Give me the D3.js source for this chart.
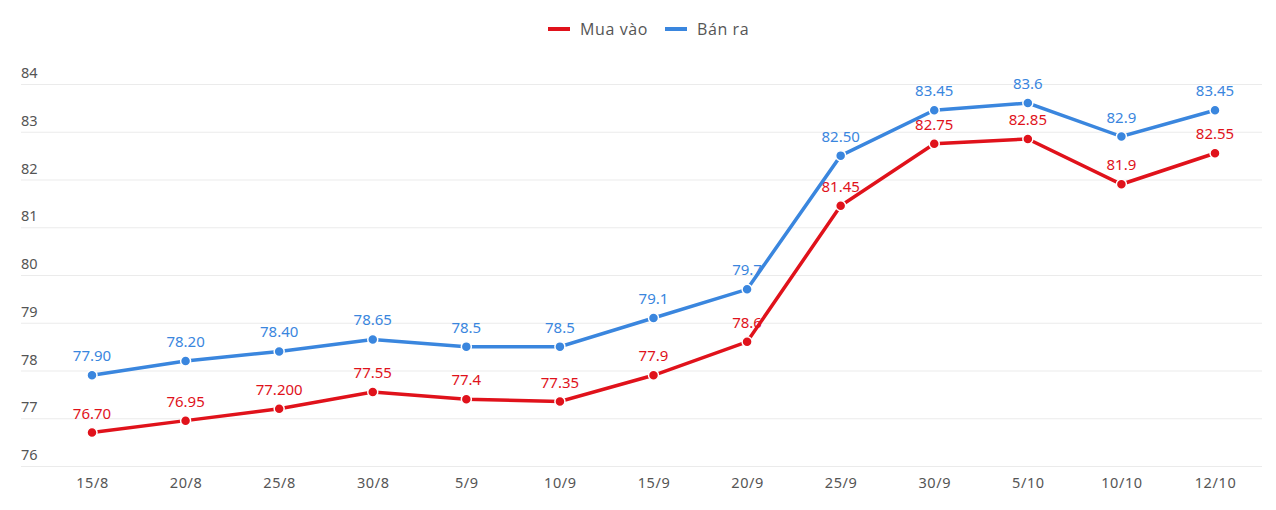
<!DOCTYPE html>
<html>
<head>
<meta charset="utf-8">
<script src="https://cdn.jsdelivr.net/npm/d3@7"></script>
<style>
  body { margin: 0; background: #fff; }
  svg { display: block; font-family: 'Noto Sans', sans-serif; }
</style>
</head>
<body>
<div id="chart"></div>
<script>
var dates = ['15/8', '20/8', '25/8', '30/8', '5/9', '10/9', '15/9', '20/9', '25/9', '30/9', '5/10', '10/10', '12/10'];
var muaVao = [76.70, 76.95, 77.20, 77.55, 77.4, 77.35, 77.9, 78.6, 81.45, 82.75, 82.85, 81.9, 82.55];
var muaVaoLabels = ['76.70', '76.95', '77.200', '77.55', '77.4', '77.35', '77.9', '78.6', '81.45', '82.75', '82.85', '81.9', '82.55'];
var banRa = [77.90, 78.20, 78.40, 78.65, 78.5, 78.5, 79.1, 79.7, 82.50, 83.45, 83.6, 82.9, 83.45];
var banRaLabels = ['77.90', '78.20', '78.40', '78.65', '78.5', '78.5', '79.1', '79.7', '82.50', '83.45', '83.6', '82.9', '83.45'];
var yTicks = [76, 77, 78, 79, 80, 81, 82, 83, 84];

var series = [
  { name: 'Mua vào', values: muaVao, labels: muaVaoLabels, color: '#e0121b' },
  { name: 'Bán ra', values: banRa, labels: banRaLabels, color: '#3a86de' }
];

var width = 1276, height = 510;

var svg = d3.select('#chart')
  .append('svg')
    .attr('width', width)
    .attr('height', height);

var x = d3.scalePoint()
  .domain(dates)
  .range([92, 1215]);

var y = d3.scaleLinear()
  .domain([76, 84])
  .range([466, 84]);

// grid + y labels
var grid = svg.append('g').attr('class', 'grid');
grid.selectAll('line')
  .data(yTicks)
  .enter().append('line')
    .attr('x1', 21)
    .attr('x2', 1262)
    .attr('y1', (d) => y(d) + 0.5)
    .attr('y2', (d) => y(d) + 0.5)
    .attr('stroke', '#ebebeb')
    .attr('stroke-width', 1);
grid.selectAll('text')
  .data(yTicks)
  .enter().append('text')
    .text((d) => d)
    .attr('x', 21)
    .attr('y', (d) => y(d) - 6)
    .attr('fill', '#555')
    .attr('font-size', 14.5);

// x axis labels
var xAxis = svg.append('g')
  .attr('transform', 'translate(0,' + 466 + ')')
  .call(d3.axisBottom(x).tickSize(0).tickPadding(12));
xAxis.select('.domain').remove();
xAxis.selectAll('text')
  .attr('fill', '#555')
  .attr('font-size', 14.5)
  .attr('letter-spacing', 0.6)
  .attr('font-family', "'Noto Sans', sans-serif");

var line = d3.line()
  .x((d, i) => x(dates[i]))
  .y((d) => y(d));

series.forEach(function(s) {
  var g = svg.append('g');
  g.append('path')
    .attr('d', line(s.values))
    .attr('fill', 'none')
    .attr('stroke', s.color)
    .attr('stroke-width', 3.5);
  g.selectAll('circle')
    .data(s.values)
    .enter().append('circle')
      .attr('cx', (d, i) => x(dates[i]))
      .attr('cy', (d) => y(d))
      .attr('r', 5)
      .attr('fill', s.color)
      .attr('stroke', '#fff')
      .attr('stroke-width', 1.5);
  g.selectAll('text')
    .data(s.values)
    .enter().append('text')
      .text((d, i) => s.labels[i])
      .attr('x', (d, i) => x(dates[i]))
      .attr('y', (d) => y(d) - 14)
      .attr('text-anchor', 'middle')
      .attr('fill', s.color)
      .attr('font-size', 15);
});

// legend
var legend = svg.append('g').attr('font-family', "'Open Sans', 'Noto Sans', sans-serif");
var legendItems = [
  { name: series[0].name, color: series[0].color, x: 548 },
  { name: series[1].name, color: series[1].color, x: 665 }
];
legendItems.forEach(function(d) {
  legend.append('line')
    .attr('x1', d.x).attr('x2', d.x + 22)
    .attr('y1', 29).attr('y2', 29)
    .attr('stroke', d.color)
    .attr('stroke-width', 4);
  legend.append('text')
    .text(d.name)
    .attr('x', d.x + 32)
    .attr('y', 35)
    .attr('fill', '#555')
    .attr('font-size', 16)
    .attr('letter-spacing', 0.6);
});
</script>
</body>
</html>
